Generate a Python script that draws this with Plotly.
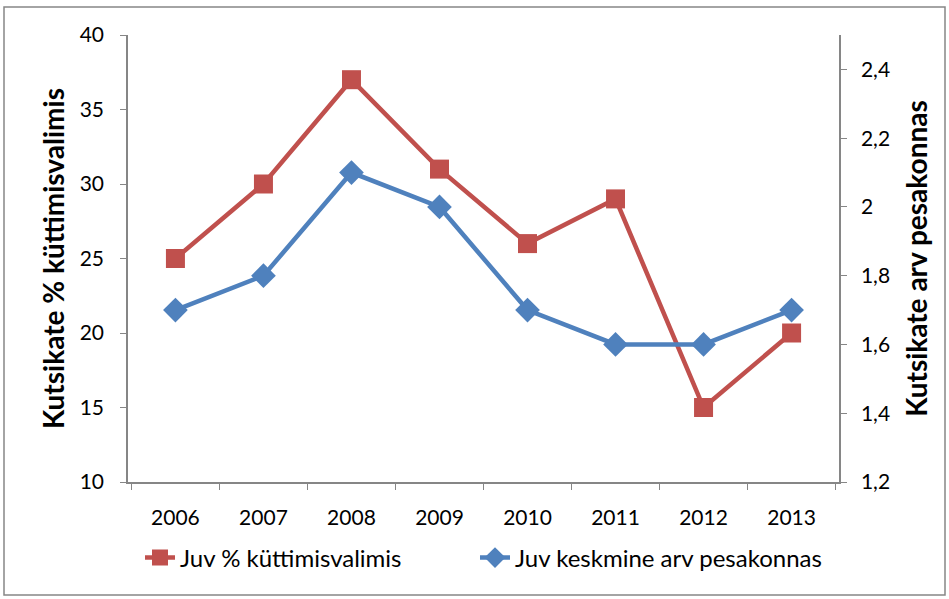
import plotly.graph_objects as go

years = ["2006", "2007", "2008", "2009", "2010", "2011", "2012", "2013"]
pct_in_sample = [25, 30, 37, 31, 26, 29, 15, 20]
mean_per_litter = [1.7, 1.8, 2.1, 2.0, 1.7, 1.6, 1.6, 1.7]

RED = "#C0504D"
BLUE = "#4F81BD"
AXIS = "#868686"
FONT = "Lato, Open Sans, sans-serif"

fig = go.Figure()
fig.add_trace(go.Scatter(
    x=years, y=pct_in_sample, name="Juv % küttimisvalimis",
    mode="lines+markers", yaxis="y", legend="legend",
    line=dict(color=RED, width=4.5),
    marker=dict(symbol="square", size=19, color=RED),
))
fig.add_trace(go.Scatter(
    x=years, y=mean_per_litter, name="Juv keskmine arv pesakonnas",
    mode="lines+markers", yaxis="y2", legend="legend2",
    line=dict(color=BLUE, width=4.5),
    marker=dict(symbol="diamond", size=19, color=BLUE),
))

W, H = 949, 599
ml, mr, mt, mb = 128, 110, 35, 117
pw, ph = W - ml - mr, H - mt - mb

def px_x(x):
    return (x - ml) / pw

def px_y(y):
    return (H - mb - y) / ph

legend_style = dict(orientation="h", xanchor="left", yanchor="middle",
                    y=px_y(558), font=dict(size=24),
                    bgcolor="rgba(0,0,0,0)")

fig.update_layout(
    width=W, height=H,
    margin=dict(l=ml, r=mr, t=mt, b=mb, autoexpand=False),
    paper_bgcolor="white", plot_bgcolor="white",
    separators=", ",
    font=dict(family=FONT, size=21, color="black"),
    showlegend=True,
    legend=dict(x=px_x(140), **legend_style),
    legend2=dict(x=px_x(475), **legend_style),
    xaxis=dict(type="category", showgrid=False, zeroline=False,
               showline=True, linecolor=AXIS, linewidth=1.5,
               ticks="outside", tickson="boundaries", ticklen=6,
               tickcolor=AXIS, tickfont=dict(size=21), ticklabelstandoff=16),
    yaxis=dict(range=[10, 40], dtick=5, showgrid=False, zeroline=False,
               showline=True, linecolor=AXIS, linewidth=1.5,
               ticks="outside", ticklen=6, tickcolor=AXIS,
               tickfont=dict(size=21), ticklabelstandoff=12,
               title=dict(text="<b>Kutsikate % küttimisvalimis</b>",
                          font=dict(size=28), standoff=7)),
    yaxis2=dict(range=[1.2, 2.5], tickvals=[1.2, 1.4, 1.6, 1.8, 2.0, 2.2, 2.4],
                overlaying="y", side="right", showgrid=False, zeroline=False,
                showline=True, linecolor=AXIS, linewidth=1.5,
                ticks="outside", ticklen=6, tickcolor=AXIS,
                tickfont=dict(size=21), ticklabelstandoff=10,
                title=dict(text="<b>Kutsikate arv pesakonnas</b>",
                           font=dict(size=28), standoff=18)),
    shapes=[dict(type="rect", xref="paper", yref="paper",
                 x0=px_x(4), x1=px_x(945), y0=px_y(595), y1=px_y(7),
                 line=dict(color=AXIS, width=1.5), layer="below")],
)

fig.write_html("out.html")
